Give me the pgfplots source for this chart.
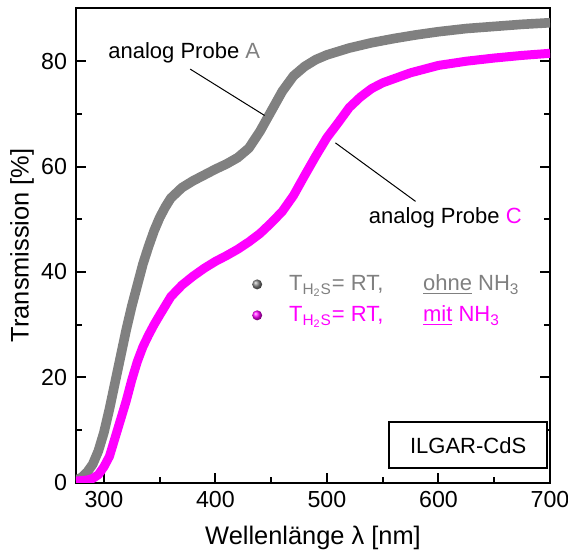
\documentclass[border=0pt]{standalone}
\usepackage{fontspec}
\setmainfont{Liberation Sans}
\usepackage{pgfplots}
\pgfplotsset{compat=1.18}
\definecolor{mgray}{RGB}{128,128,128}
\definecolor{mmag}{RGB}{255,0,255}
\newcommand{\fs}{\fontsize{11}{13}\selectfont}
\newcommand{\ft}{\fontsize{11.6}{13.5}\selectfont}
\newcommand{\fl}{\fontsize{12.7}{15}\selectfont}
\begin{document}
\begin{tikzpicture}
\begin{axis}[
  scale only axis, width=237pt, height=237.35pt,
  xmin=275, xmax=700, ymin=0, ymax=90.1,
  xtick={300,400,...,700}, ytick={0,20,...,80},
  minor xtick={350,450,550,650}, minor ytick={10,30,50,70},
  xtick pos=left, ytick pos=both,
  tick align=inside,
  major tick length=5pt, minor tick length=2.8pt,
  every tick/.style={line width=1pt, black},
  axis line style={line width=1pt},
  tick label style={font=\ft},
  /pgf/number format/assume math mode=true,
  yticklabel style={xshift=-1pt},
  xticklabel style={yshift=-1pt},
  xlabel={Wellenlänge λ [nm]}, ylabel={Transmission [\%]},
  label style={font=\fl},
  xlabel style={at={(axis description cs:0.5,-0.1159)}, anchor=center},
  ylabel style={at={(axis description cs:-0.1139,0.5)}, anchor=center},
  legend style={at={(axis cs:432.6,34.7)}, anchor=west, draw=none, fill=none, font=\fs, row sep=2pt, inner sep=0pt},
  legend cell align=left,
]
\coordinate (SW) at (rel axis cs:0,0);
\coordinate (NE) at (rel axis cs:1,1);
\addplot[mgray, line width=4.8pt, line join=round,
  legend image code/.code={\shade[draw=none, line width=0pt, ball color=mgray] (0,0) circle (2.5pt); \path[draw=none] (-2.5pt,0) (14pt,0);}]
coordinates {
(275,0.5) (280,1) (285,2) (290,3.5) (295,6) (300,9.5) (305,14) (310,19) (315,24)
(320,29) (325,33.5) (330,37.5) (335,41.5) (340,44.8) (345,47.8) (350,50.3) (355,52.3)
(360,54) (370,56) (380,57.3) (390,58.4) (400,59.5) (410,60.5) (420,61.7) (430,63.5)
(440,66.7) (450,70.5) (460,74.3) (470,77.2) (480,79) (490,80.3) (500,81.2) (520,82.5)
(540,83.5) (560,84.3) (580,85) (600,85.6) (625,86.2) (650,86.6) (675,87) (700,87.3)
};
\addlegendentry{\textcolor{mgray}{\makebox[67pt][l]{T\textsubscript{H\textsubscript{2}S}= RT,}\underline{ohne} NH\textsubscript{3}}}
\addplot[mmag, line width=4.5pt, line join=round,
  legend image code/.code={\shade[draw=none, line width=0pt, ball color=mmag] (0,0) circle (2.5pt); \path[draw=none] (-2.5pt,0) (14pt,0);}]
coordinates {
(275,0.3) (285,0.5) (290,0.8) (295,1.5) (300,3) (305,5) (310,8.5) (315,12) (320,15.5)
(325,19.5) (330,23) (335,25.8) (340,28) (345,30) (350,31.8) (360,35.3) (370,37.5)
(380,39.2) (390,40.7) (400,42) (410,43.1) (420,44.3) (430,45.7) (440,47.3) (450,49.3)
(460,51.5) (470,54.5) (480,58.3) (490,62) (500,65.5) (510,68.3) (520,71.2) (530,73.2)
(540,74.8) (550,75.9) (575,77.8) (600,79.2) (625,80) (650,80.6) (675,81.1) (700,81.5)
};
\addlegendentry{\textcolor{mmag}{\makebox[67pt][l]{T\textsubscript{H\textsubscript{2}S}= RT,}\underline{mit} NH\textsubscript{3}}}
\node[anchor=west, inner sep=0pt, font=\fs] at (axis cs:303.7,81.6) {analog Probe \textcolor{mgray}{A}};
\node[anchor=west, inner sep=0pt, font=\fs] at (axis cs:537.2,50.3) {analog Probe \textcolor{mmag}{C}};
\draw[black, line width=0.5pt] (axis cs:377.4,78.5) -- (axis cs:444.1,69.7);
\draw[black, line width=0.5pt] (axis cs:507.6,64.5) -- (axis cs:579.4,53.4);
\node[draw, line width=1pt, minimum width=79pt, minimum height=22.8pt, fill=white, font=\fs, inner sep=0pt] at (axis cs:626.6,7.1) {ILGAR-CdS};
\end{axis}
\pgfresetboundingbox
\useasboundingbox ([shift={(-38pt,-36pt)}]SW) rectangle ([shift={(9pt,4pt)}]NE);
\end{tikzpicture}
\end{document}
